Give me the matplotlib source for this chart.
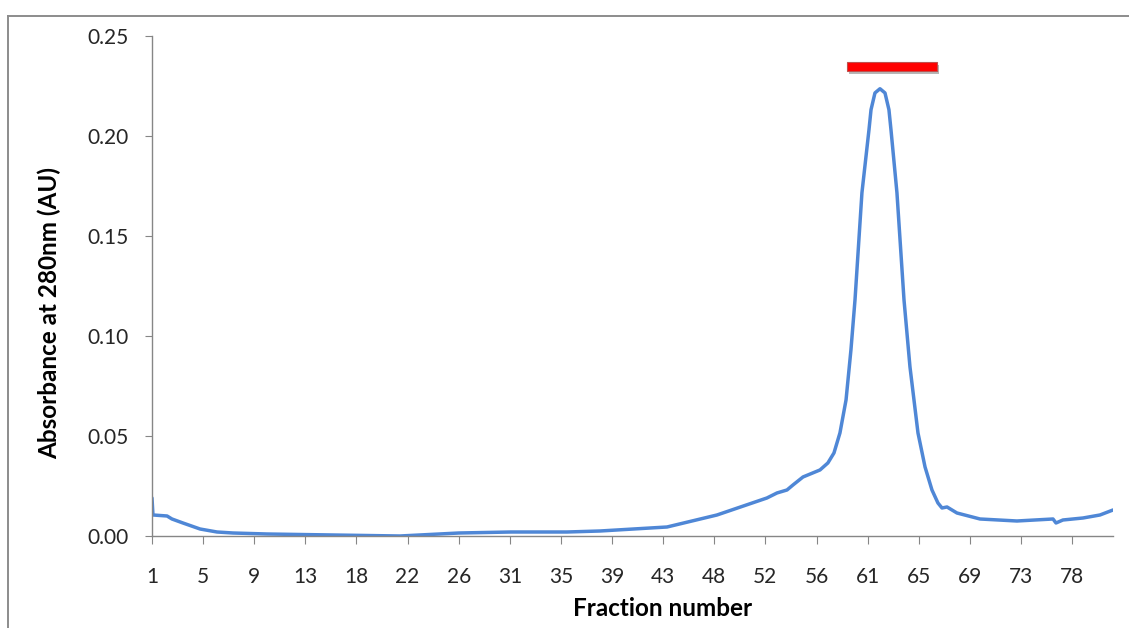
import numpy as np
import matplotlib.pyplot as plt
import matplotlib.patches as mpatches
import matplotlib.patheffects as pe
from matplotlib.lines import Line2D

# absorbance trace of the column run
fraction = [1.0, 1.08, 2.26, 2.67, 3.59, 5.02, 6.44, 7.78, 10.62, 16.15,
            21.75, 26.69, 31.04, 35.73, 38.49, 44.10, 48.28, 52.46, 53.30, 54.14,
            54.64, 55.48, 56.90, 57.56, 58.07, 58.57, 59.08, 59.49, 59.83, 60.41,
            61.00, 61.17, 61.50, 61.92, 62.34, 62.67, 62.84, 63.34, 63.93, 64.43,
            65.10, 65.69, 66.27, 66.77, 67.11, 67.53, 68.36, 70.29, 73.38, 76.40,
            76.65, 77.23, 78.91, 80.33, 81.42]
absorbance = [0.019, 0.0105, 0.010, 0.0085, 0.0065, 0.0035, 0.002, 0.0015, 0.001, 0.0005,
              0.0, 0.0015, 0.002, 0.002, 0.0025, 0.0045, 0.0105, 0.019, 0.0215, 0.023,
              0.0255, 0.0295, 0.033, 0.0365, 0.0415, 0.0515, 0.068, 0.093, 0.118, 0.1715,
              0.203, 0.213, 0.2214, 0.2235, 0.2214, 0.213, 0.203, 0.1715, 0.118, 0.0845,
              0.0515, 0.0345, 0.023, 0.0165, 0.014, 0.0145, 0.0115, 0.0085, 0.0075, 0.0085,
              0.0065, 0.008, 0.009, 0.0105, 0.013]

# category labels shown on the x axis
tick_labels = ['1', '5', '9', '13', '18', '22', '26', '31', '35', '39',
               '43', '48', '52', '56', '61', '65', '69', '73', '78']

# pooled fractions marker (red bar)
pool_start, pool_end = 59.16, 66.69
pool_level = 0.2345

fig = plt.figure(figsize=(11.29, 6.28), dpi=100)
ax = fig.add_axes([152 / 1129, 1 - 536 / 628, (1113 - 152) / 1129, (536 - 35.7) / 628])

ax.plot(fraction, absorbance, color='#4F87D6', linewidth=2.5,
        solid_joinstyle='round', solid_capstyle='round')

# red bar with a soft shadow
bar = mpatches.Rectangle((pool_start, pool_level - 0.00225), pool_end - pool_start, 0.0045,
                         facecolor='#ff0000', edgecolor='#c0504d', linewidth=0.8, zorder=3)
bar.set_path_effects([pe.SimplePatchShadow(offset=(1.5, -2), shadow_rgbFace='#888888', alpha=0.6),
                      pe.Normal()])
ax.add_patch(bar)

ax.set_xlim(1, 81.42)
ax.set_ylim(0, 0.25)
ax.set_xticks(np.linspace(1, 78, len(tick_labels)))
ax.set_xticklabels(tick_labels)
ax.set_yticks([0, 0.05, 0.10, 0.15, 0.20, 0.25])
ax.set_yticklabels(['0.00', '0.05', '0.10', '0.15', '0.20', '0.25'])

for s in ['top', 'right']:
    ax.spines[s].set_visible(False)
for s in ['left', 'bottom']:
    ax.spines[s].set_color('#868686')
    ax.spines[s].set_linewidth(1.0)

ax.tick_params(axis='y', direction='out', length=5, color='#868686', pad=12,
               labelsize=15, labelcolor='#262626')
ax.tick_params(axis='x', direction='out', length=6, color='#868686', pad=16,
               labelsize=15, labelcolor='#262626')
for lab in ax.get_xticklabels() + ax.get_yticklabels():
    lab.set_family('Lato')

ax.set_xlabel('Fraction number', fontsize=17.5, fontweight='bold', family='Lato')
ax.set_ylabel('Absorbance at 280nm (AU)', fontsize=17.5, fontweight='bold', family='Lato')
ax.xaxis.set_label_coords(0.531, -0.122)
ax.yaxis.set_label_coords(-0.094, 0.445)

# outer chart border (cropped on right and bottom)
fig.add_artist(Line2D([8 / 1129, 8 / 1129], [0, 1 - 15.5 / 628], transform=fig.transFigure,
                      color='#8c8c8c', linewidth=1.4))
fig.add_artist(Line2D([8 / 1129, 1], [1 - 15.5 / 628, 1 - 15.5 / 628], transform=fig.transFigure,
                      color='#8c8c8c', linewidth=1.4))

fig.savefig('out.png', dpi=100)
